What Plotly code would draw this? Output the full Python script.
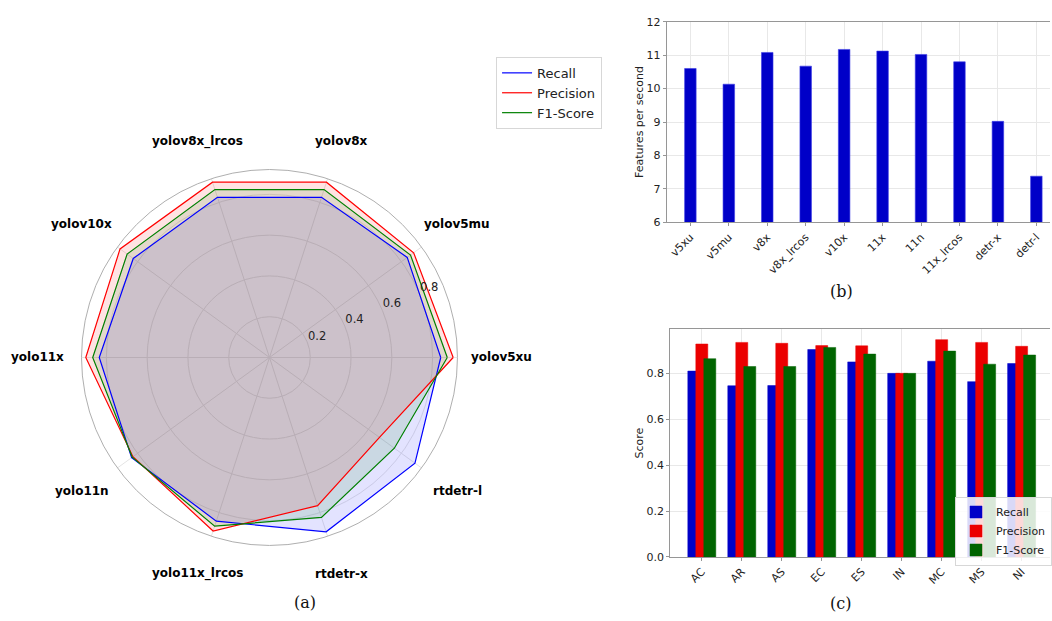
import math
import plotly.graph_objects as go

# ---- (a) radar: per-model detection metrics ----
models = ["yolov5xu", "yolov5mu", "yolov8x", "yolov8x_lrcos", "yolov10x",
          "yolo11x", "yolo11n", "yolo11x_lrcos", "rtdetr-x", "rtdetr-l"]
recall = [0.840, 0.835, 0.826, 0.826, 0.826, 0.835, 0.836, 0.844, 0.899, 0.882]
precision = [0.901, 0.874, 0.904, 0.904, 0.906, 0.901, 0.828, 0.895, 0.764, 0.667]
f1_score = [0.872, 0.855, 0.866, 0.866, 0.863, 0.867, 0.832, 0.870, 0.825, 0.757]
radial_ticks = [0.2, 0.4, 0.6, 0.8]

# ---- (b) throughput per model ----
fps_labels = ["v5xu", "v5mu", "v8x", "v8x_lrcos", "v10x", "11x", "11n",
              "11x_lrcos", "detr-x", "detr-l"]
fps_values = [10.60, 10.13, 11.08, 10.67, 11.17, 11.12, 11.02, 10.80, 9.02, 7.38]
fps_ticks = [6, 7, 8, 9, 10, 11, 12]

# ---- (c) per-class scores ----
classes = ["AC", "AR", "AS", "EC", "ES", "IN", "MC", "MS", "NI"]
cls_recall = [0.810, 0.746, 0.747, 0.904, 0.850, 0.800, 0.853, 0.764, 0.843]
cls_precision = [0.928, 0.935, 0.931, 0.921, 0.920, 0.800, 0.947, 0.935, 0.918]
cls_f1 = [0.864, 0.830, 0.830, 0.913, 0.884, 0.800, 0.897, 0.840, 0.880]
score_ticks = [0.0, 0.2, 0.4, 0.6, 0.8]

W, H = 1052, 621
SANS = "DejaVu Sans"
SERIF = "DejaVu Serif"
GRID = "rgb(232,232,232)"
SPINE = "rgb(150,150,150)"
R_MAX = 0.922

n = len(models)
angles = [i * 360.0 / n for i in range(n)]


def closed(seq):
    return list(seq) + [seq[0]]


fig = go.Figure()

radar_series = [
    ("Recall", recall, "rgb(0,0,255)", "rgba(0,0,255,0.11)"),
    ("Precision", precision, "rgb(255,0,0)", "rgba(255,0,0,0.11)"),
    ("F1-Score", f1_score, "rgb(0,128,0)", "rgba(0,128,0,0.11)"),
]

# translucent fills first, outlines on top
for name, vals, col, fcol in radar_series:
    fig.add_trace(go.Scatterpolar(
        r=closed(vals), theta=closed(angles), mode="lines", fill="toself",
        fillcolor=fcol, line=dict(width=0, color=fcol), showlegend=False,
        hoverinfo="skip", subplot="polar"))
for name, vals, col, fcol in radar_series:
    fig.add_trace(go.Scatterpolar(
        r=closed(vals), theta=closed(angles), mode="lines", name=name,
        line=dict(color=col, width=1.2), subplot="polar", legend="legend"))

# radial tick labels along ~23.5 degrees
fig.add_trace(go.Scatterpolar(
    r=[t + 0.055 for t in radial_ticks], theta=[23.6] * len(radial_ticks),
    mode="text", text=[f"{t:.1f}" for t in radial_ticks],
    textfont=dict(family=SANS, size=11.5, color="#222"),
    cliponaxis=False, showlegend=False, hoverinfo="skip", subplot="polar"))

cx, cy, rad = 270, 359, 192
fig.update_layout(polar=dict(
    domain=dict(x=[(cx - rad) / W, (cx + rad) / W],
                y=[(H - cy - rad) / H, (H - cy + rad) / H]),
    bgcolor="white",
    angularaxis=dict(thetaunit="degrees", rotation=0, direction="counterclockwise",
                     tickvals=angles, showticklabels=False, ticks="",
                     showgrid=True, gridcolor="rgb(228,228,228)", gridwidth=0.8,
                     showline=True, linecolor="rgb(175,175,175)", linewidth=1),
    radialaxis=dict(range=[0, R_MAX], tickvals=radial_ticks, showticklabels=False,
                    ticks="", showline=False, showgrid=True,
                    gridcolor="rgb(228,228,228)", gridwidth=0.8),
))

# category names centred on a ring outside the plot circle
label_ring = rad * 1.21
for name, ang in zip(models, angles):
    a = math.radians(ang)
    lx = cx + label_ring * math.cos(a)
    ly = cy - label_ring * math.sin(a)
    fig.add_annotation(text=f"<b>{name}</b>", x=lx / W, y=1 - ly / H,
                       xref="paper", yref="paper", showarrow=False,
                       xanchor="center", yanchor="middle",
                       font=dict(family=SANS, size=12, color="black"))

# ---- (b) bars ----
fig.add_trace(go.Bar(
    x=fps_labels, y=fps_values, width=0.3, marker=dict(color="rgb(0,0,200)",
    line=dict(width=0.6, color="rgb(60,60,230)")), showlegend=False,
    xaxis="x", yaxis="y"))

# ---- (c) grouped bars ----
bar_series = [
    ("Recall", cls_recall, "rgb(0,0,200)", -0.35),
    ("Precision", cls_precision, "rgb(235,0,0)", -0.15),
    ("F1-Score", cls_f1, "rgb(0,100,0)", 0.05),
]
for name, vals, col, off in bar_series:
    fig.add_trace(go.Bar(
        x=classes, y=vals, width=0.3, offset=off, name=name,
        marker=dict(color=col, line=dict(width=0.5, color=col)),
        xaxis="x2", yaxis="y2", legend="legend2"))

tickfont = dict(family=SANS, size=11, color="#222")
axis_common = dict(showline=True, linecolor=SPINE, linewidth=1.2,
                   showgrid=True, gridcolor=GRID, gridwidth=1,
                   tickfont=tickfont, zeroline=False)

fig.update_layout(
    xaxis=dict(domain=[668 / W, 1.0], anchor="y", range=[-0.615, 9.355],
               tickangle=-45, mirror=True, ticks="outside", ticklen=3,
               tickcolor=SPINE, **axis_common),
    yaxis=dict(domain=[1 - 221 / H, 1 - 16 / H], anchor="x", range=[6, 12],
               tickvals=fps_ticks, ticks="outside", ticklen=3, tickcolor=SPINE,
               title=dict(text="Features per second",
                          font=dict(family=SANS, size=11, color="#222"),
                          standoff=0),
               **axis_common),
    xaxis2=dict(domain=[671.7 / W, 1.0], anchor="y2", range=[-0.785, 8.71],
                tickangle=-45, mirror=True, ticks="outside", ticklen=3,
                tickcolor=SPINE, **axis_common),
    yaxis2=dict(domain=[1 - 562.7 / H, 1 - 330 / H], anchor="x2",
                range=[0, 0.993], tickvals=score_ticks, tickformat=".1f",
                ticks="outside", ticklen=3, tickcolor=SPINE,
                title=dict(text="Score",
                           font=dict(family=SANS, size=11, color="#222"),
                           standoff=0),
                **axis_common),
    barmode="overlay",
    legend=dict(x=497 / W, y=1 - 52 / H, xanchor="left", yanchor="top",
                font=dict(family=SANS, size=13, color="#222"),
                bgcolor="white", bordercolor="rgb(215,215,215)", borderwidth=1,
                itemwidth=30, tracegroupgap=0),
    legend2=dict(x=957 / W, y=1 - 501 / H, xanchor="left", yanchor="top",
                 font=dict(family=SANS, size=11, color="#222"),
                 bgcolor="rgba(255,255,255,0.85)", bordercolor="rgb(215,215,215)",
                 borderwidth=1, itemwidth=30, tracegroupgap=0),
    width=W, height=H, margin=dict(l=0, r=0, t=0, b=0),
    paper_bgcolor="white", plot_bgcolor="white",
    font=dict(family=SANS, size=11, color="#222"),
)

captions = [("(a)", 306, 609), ("(b)", 843, 292), ("(c)", 842, 610)]
for txt, px, py in captions:
    fig.add_annotation(text=txt, x=px / W, y=1 - py / H, xref="paper", yref="paper",
                       showarrow=False, xanchor="center", yanchor="middle",
                       font=dict(family=SERIF, size=16, color="#111"))

fig.write_html("out.html")
